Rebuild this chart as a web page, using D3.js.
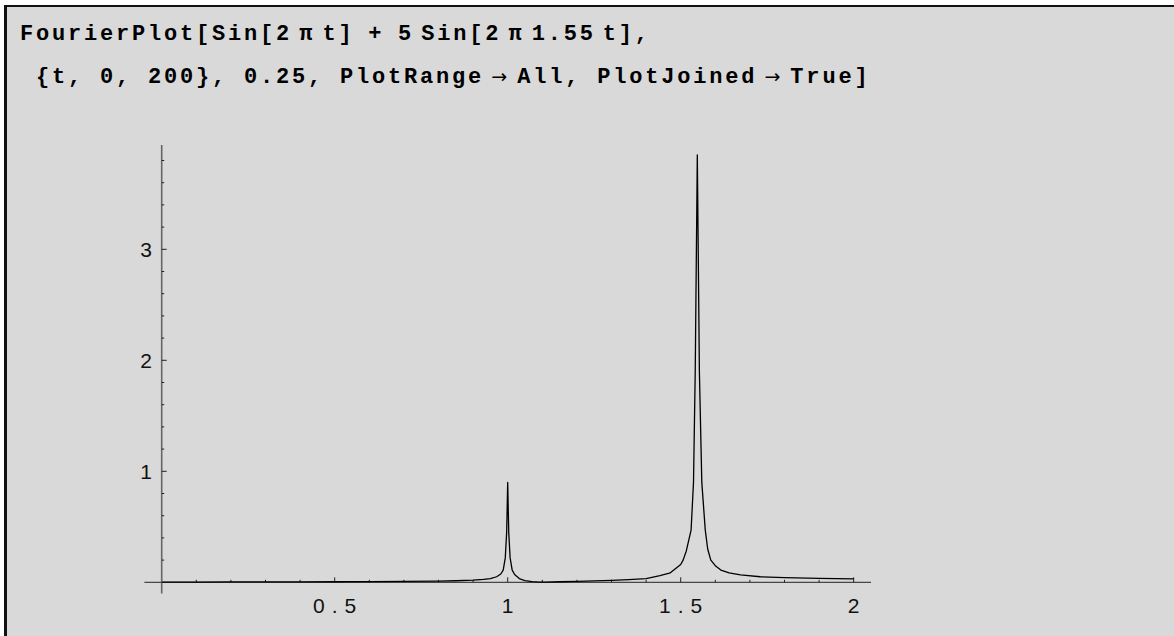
<!DOCTYPE html>
<html>
  <meta charset="utf-8">
  <head>
    <style>
        body { margin: 0; background: white; }
        svg { display: block; }
        .code { font-family: "Liberation Mono", monospace; font-weight: bold; font-size: 22px; letter-spacing: 2.8px; fill: black; }
        .arrow { font-family: "DejaVu Sans", sans-serif; font-weight: normal; font-size: 19px; }
        .lbl { font-family: "Liberation Sans", sans-serif; font-size: 21px; fill: #111; }
    </style>
    <title>FourierPlot</title>
    <script src="https://cdn.jsdelivr.net/npm/d3@7"></script>
  </head>
  <body>
    <script>
      // spectrum: frequency and amplitude
      var freq = [0, 0.1, 0.2, 0.3, 0.4, 0.5, 0.6, 0.7, 0.8, 0.85, 0.9, 0.93, 0.95, 0.968, 0.98, 0.987,
                  0.993, 0.997, 1.0, 1.003, 1.007, 1.013, 1.02, 1.035, 1.05, 1.07, 1.09, 1.11, 1.15,
                  1.2, 1.25, 1.3, 1.35, 1.4, 1.44, 1.47, 1.5, 1.507, 1.516, 1.53, 1.537, 1.542, 1.548,
                  1.554, 1.561, 1.571, 1.578, 1.587, 1.6, 1.616, 1.64, 1.673, 1.73, 1.8, 1.9, 2.0];
      var amp  = [0.002, 0.002, 0.003, 0.003, 0.004, 0.005, 0.006, 0.008, 0.011, 0.014, 0.02, 0.026, 0.033, 0.05, 0.075, 0.11,
                  0.22, 0.45, 0.9, 0.45, 0.22, 0.11, 0.07, 0.03, 0.015, 0.006, 0.002, 0.002, 0.005,
                  0.009, 0.013, 0.018, 0.025, 0.033, 0.06, 0.085, 0.16, 0.2, 0.28, 0.47, 0.9, 1.9, 3.85,
                  1.9, 0.9, 0.47, 0.3, 0.2, 0.15, 0.11, 0.085, 0.066, 0.05, 0.042, 0.035, 0.03];

      var xMajor = [0.5, 1, 1.5, 2];
      var xLabels = ["0.5", "1", "1.5", "2"];
      var yMajor = [1, 2, 3];
      var yLabels = ["1", "2", "3"];

      var codeLine1 = "FourierPlot[Sin[2\u2009\u03c0\u2009t]\u2002+\u20025\u2009Sin[2\u2009\u03c0\u20091.55\u2009t],";
      var codeLine2 = "\u00a0{t, 0, 200}, 0.25, PlotRange\u2009\u2192\u2009All, PlotJoined\u2009\u2192\u2009True]";

      var W = 1174, H = 636;
      var svg = d3.select("body").append("svg").attr("width", W).attr("height", H);

      // grey cell with heavy left/top border
      svg.append("rect").attr("x", 4).attr("y", 5).attr("width", W).attr("height", H).attr("fill", "#d9d9d9");
      svg.append("rect").attr("x", 4).attr("y", 5).attr("width", 3).attr("height", H).attr("fill", "#111");
      svg.append("rect").attr("x", 4).attr("y", 5).attr("width", W).attr("height", 2).attr("fill", "#111");

      function codeText(str, yy) {
        var t = svg.append("text").attr("class", "code").attr("x", 20).attr("y", yy);
        str.split("\u2192").forEach(function(part, i) {
          if (i > 0) t.append("tspan").attr("class", "arrow").text("\u2192");
          t.append("tspan").text(part);
        });
      }
      codeText(codeLine1, 40);
      codeText(codeLine2, 83);

      var x = d3.scaleLinear().domain([0, 2]).range([161.7, 853.7]);
      var y = d3.scaleLinear().domain([0, 4]).range([582.3, 138.3]);

      // axes lines
      svg.append("line").attr("x1", x(-0.05)).attr("x2", x(2.05)).attr("y1", y(0)).attr("y2", y(0))
         .attr("stroke", "#222").attr("stroke-width", 1);
      svg.append("line").attr("x1", x(0)).attr("x2", x(0)).attr("y1", y(-0.1)).attr("y2", y(3.94))
         .attr("stroke", "#666").attr("stroke-width", 1.6);

      // ticks (inside)
      var xMinor = d3.range(1, 20).map(function(i) { return i / 10; })
                     .filter(function(v) { return xMajor.indexOf(v) < 0; });
      var yMinor = d3.range(1, 20).map(function(i) { return +(i * 0.2).toFixed(1); })
                     .filter(function(v) { return v < 3.9 && yMajor.indexOf(v) < 0; });

      svg.selectAll("line.xmin").data(xMinor).enter().append("line")
         .attr("x1", function(d) { return x(d); }).attr("x2", function(d) { return x(d); })
         .attr("y1", y(0)).attr("y2", y(0) - 2.5).attr("stroke", "#222").attr("stroke-width", 1);
      svg.selectAll("line.xmaj").data(xMajor).enter().append("line")
         .attr("x1", function(d) { return x(d); }).attr("x2", function(d) { return x(d); })
         .attr("y1", y(0)).attr("y2", y(0) - 5).attr("stroke", "#222").attr("stroke-width", 1);
      svg.selectAll("line.ymin").data(yMinor).enter().append("line")
         .attr("y1", function(d) { return y(d); }).attr("y2", function(d) { return y(d); })
         .attr("x1", x(0)).attr("x2", x(0) + 2.5).attr("stroke", "#222").attr("stroke-width", 1);
      svg.selectAll("line.ymaj").data(yMajor).enter().append("line")
         .attr("y1", function(d) { return y(d); }).attr("y2", function(d) { return y(d); })
         .attr("x1", x(0)).attr("x2", x(0) + 5).attr("stroke", "#222").attr("stroke-width", 1);

      svg.selectAll("text.xl").data(xMajor).enter().append("text")
         .attr("class", "lbl").attr("text-anchor", "middle")
         .attr("x", function(d) { return x(d) + 3.5; }).attr("y", 613)
         .style("letter-spacing", "7px")
         .text(function(d, i) { return xLabels[i]; });
      svg.selectAll("text.yl").data(yMajor).enter().append("text")
         .attr("class", "lbl").attr("text-anchor", "end")
         .attr("x", 152).attr("y", function(d) { return y(d) + 7.5; })
         .text(function(d, i) { return yLabels[i]; });

      var pts = freq.map(function(f, i) { return [f, amp[i]]; });
      svg.append("path").datum(pts)
         .attr("d", d3.line().x(function(d) { return x(d[0]); }).y(function(d) { return y(d[1]); }))
         .attr("fill", "none").attr("stroke", "black").attr("stroke-width", 1.3)
         .attr("stroke-linejoin", "round");
    </script>
  </body>
</html>
